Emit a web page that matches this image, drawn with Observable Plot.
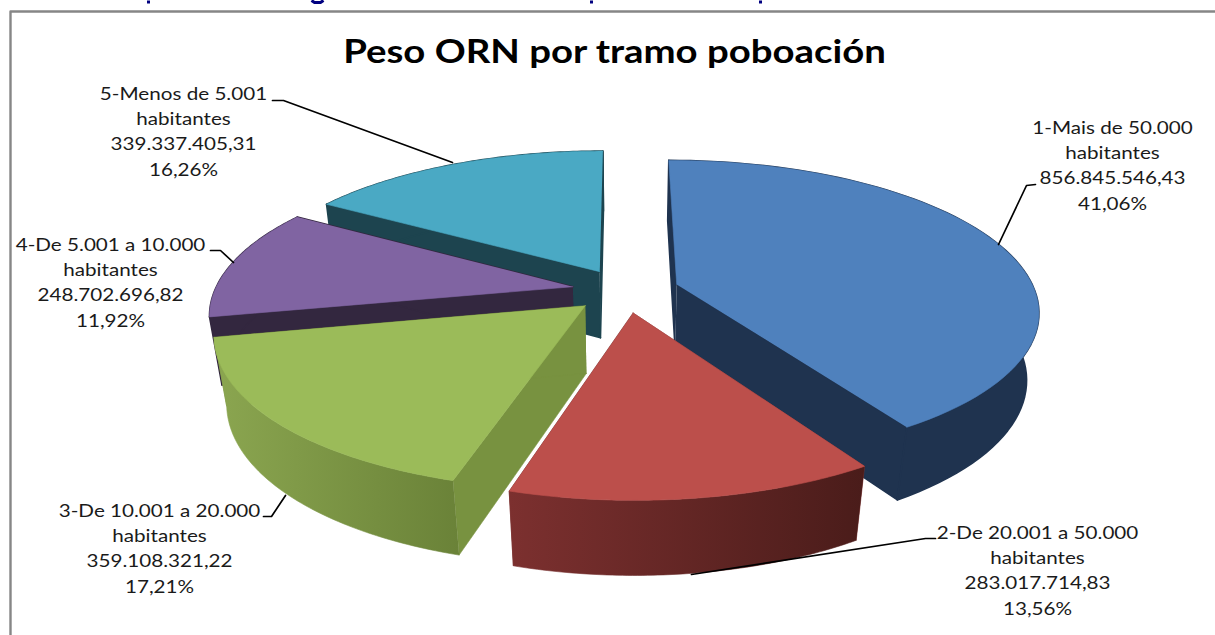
<!DOCTYPE html>
<html>
<head>
<meta charset="utf-8">
<script src="https://cdn.jsdelivr.net/npm/d3@7"></script>
<script src="https://cdn.jsdelivr.net/npm/@observablehq/plot@0.6"></script>
<style>
html,body{margin:0;padding:0;background:#fff;overflow:hidden}
svg{display:block}
</style>
</head>
<body>
<div id="chart"></div>
<script>
const chartTitle = "Peso ORN por tramo poboación";
const categories = ["1-Mais de 50.000\nhabitantes","2-De 20.001 a 50.000\nhabitantes","3-De 10.001 a 20.000\nhabitantes","4-De 5.001 a 10.000\nhabitantes","5-Menos de 5.001\nhabitantes"];
const values = [856845546.43, 283017714.83, 359108321.22, 248702696.82, 339337405.31];
const topColors = ["#4F81BD","#BC4F4B","#9BBB59","#8064A2","#4AA9C4"];
const wallColors = ["#1F334F","#7A302F","#789240","#33273F","#1D444F"];
const outerFrom = ["#1F334F","#7C302F","#8BA650","#33273F","#1D444F"];
const outerTo = ["#1F334F","#4A1C1A","#6A8238","#33273F","#1D444F"];
const paintOrder = [4,3,0,2,1];

const W = 1215, H = 635;
// camera of the 3-D pie
const cam = {cx:625, cy:290, rx:358, ry:147, depth:69, persp:0.17, conv:0.03, explode:0.15, start:-0.1*Math.PI/180};
const project = (u,v,w) => {
  const s = 1/(1+cam.persp*v+cam.conv*w);
  return {x:cam.cx+cam.rx*u*s, y:cam.cy-cam.ry*v*s+cam.depth*w*s};
};
const arcs = d3.pie().sort(null).startAngle(cam.start).endAngle(cam.start+2*Math.PI)(values);
const slices = arcs.map((a,i)=>{
  const mid=(a.startAngle+a.endAngle)/2;
  const ax=cam.explode*Math.sin(mid), ay=cam.explode*Math.cos(mid);
  const at=(t,w)=>project(ax+Math.sin(t),ay+Math.cos(t),w);
  const ts=d3.range(0,73).map(k=>a.startAngle+(a.endAngle-a.startAngle)*k/72);
  const apex=w=>project(ax,ay,w);
  return {
    i,
    top:[apex(0),...ts.map(t=>at(t,0))],
    startWall:[apex(0),at(a.startAngle,0),at(a.startAngle,1),apex(1)],
    endWall:[apex(0),at(a.endAngle,0),at(a.endAngle,1),apex(1)],
    outer:[...ts.map(t=>at(t,0)),...ts.slice().reverse().map(t=>at(t,1))]
  };
});
const face=(pts,fill,strokeWidth=0.6)=>Plot.line(pts,{x:"x",y:"y",fill,stroke:fill,strokeWidth,strokeOpacity:1});
const gradients=()=>{
  const svg=d3.create("svg:g");
  const defs=svg.append("defs");
  slices.forEach(s=>{
    const g=defs.append("linearGradient").attr("id",`outer${s.i}`).attr("gradientUnits","userSpaceOnUse")
      .attr("x1",d3.min(s.outer,d=>d.x)).attr("x2",d3.max(s.outer,d=>d.x)).attr("y1",0).attr("y2",0);
    g.append("stop").attr("offset",0).attr("stop-color",outerFrom[s.i]);
    g.append("stop").attr("offset",1).attr("stop-color",outerTo[s.i]);
  });
  return svg.node();
};
const sliceMarks=paintOrder.flatMap(i=>{
  const s=slices[i];
  const flat=outerFrom[i]===outerTo[i];
  const outerFill=flat?outerFrom[i]:`url(#outer${i})`;
  const sw=flat?1.6:0.6;
  return [face(s.startWall,wallColors[i],sw),face(s.endWall,wallColors[i],sw),face(s.outer,outerFill,sw),face(s.top,topColors[i])];
});

// leader lines and label anchors (layout)
const leaderPaths=[
  [[1035,184],[1026,185],[998,244]],
  [[935,538],[925,538],[691,574]],
  [[263,516],[271,516],[285,495]],
  [[210,250],[220,250],[233,262]],
  [[272,100],[283,100],[452,162]]
];
const labelAt=[[1112,163],[1037,568],[159,546],[110,280],[183,129]];
const total=d3.sum(values);
const num=v=>v.toLocaleString("de-DE",{minimumFractionDigits:2,maximumFractionDigits:2});
const labels=values.map((v,i)=>({x:labelAt[i][0],y:labelAt[i][1],text:`${categories[i]}\n${num(v)}\n${(v/total*100).toFixed(2).replace(".",",")}%`}));
const font="Lato, Carlito, sans-serif";

// the only visible remains of the heading cropped by the top edge
const cropped=[
  [[148,0],[148,3]],
  [[311,0],[314,2],[320,2],[323,0]],
  [[591,0],[591,3]],
  [[760,0],[760,3]]
];

const plot=Plot.plot({
  width:W,height:H,margin:0,
  x:{axis:null,domain:[0,W],range:[0,W]},
  y:{axis:null,domain:[0,H],range:[0,H]},
  style:{background:"#fff",fontFamily:font},
  marks:[
    gradients,
    Plot.line([{x:10,y:H},{x:10,y:11},{x:W,y:11}],{x:"x",y:"y",stroke:"#868686",strokeWidth:2.4}),
    ...cropped.map(p=>Plot.line(p,{x:d=>d[0],y:d=>d[1],stroke:"#000080",strokeWidth:3,strokeLinecap:"butt"})),
    ...sliceMarks,
    ...leaderPaths.map(p=>Plot.line(p,{x:d=>d[0],y:d=>d[1],stroke:"#000",strokeWidth:1.7})),
    Plot.text([chartTitle],{x:()=>614,y:()=>52,text:d=>d,fontSize:32.5,fontWeight:700,fill:"#000",textAnchor:"middle",lineAnchor:"middle"}),
    Plot.text(labels,{x:"x",y:"y",text:"text",fontSize:17.5,fill:"#1a1a1a",textAnchor:"middle",lineAnchor:"middle",lineHeight:1.45})
  ]
});
// the reference's type is horizontally stretched
plot.querySelectorAll('g[aria-label="text"] text').forEach(t=>{
  t.setAttribute("transform",(t.getAttribute("transform")||"")+" scale(1.18,1)");
});
document.getElementById("chart").append(plot);
</script>
</body>
</html>
